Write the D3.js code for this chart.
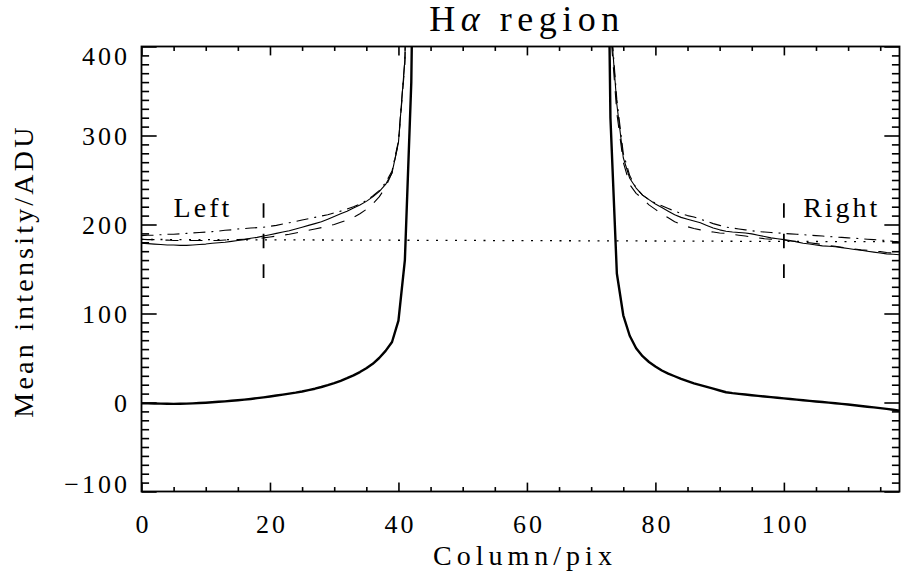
<!DOCTYPE html>
<html>
<head>
<meta charset="utf-8">
<script src="https://cdn.jsdelivr.net/npm/d3@7"></script>
<style>
  html, body { margin: 0; padding: 0; background: #fff; }
  svg { display: block; }
  text { font-family: "Liberation Serif", "DejaVu Serif", serif; fill: #000; }
</style>
</head>
<body>
<svg id="chart" width="902" height="575"></svg>
<script>
// ---- data: mean intensity per column, left and right wings of the line ----
// (the line core between the wings runs far above the plotted range)
const leftStart = 0;
const rightStart = 72;

// object spectrum (thick solid)
const objectLeft = [-1, -1, -1.2, -1.3, -1.4, -1.5, -1.4, -1.3, -1, -0.6,
  -0.2, 0.3, 0.8, 1.3, 1.9, 2.5, 3.2, 4, 4.9, 5.8,
  6.8, 7.8, 8.9, 10, 11.1, 12.4, 13.9, 15.5, 17.4, 19.5,
  21.8, 24.4, 27.3, 30.5, 34.2, 38.5, 43.5, 50, 58, 68,
  92, 160, 360, 900];
const objectRight = [900, 320, 145, 98, 75, 61, 52, 45.5, 40.5, 36,
  32.5, 29.5, 26.5, 24, 21.5, 19.5, 17.5, 15.5, 13.5, 11.5,
  10.5, 9.7, 9, 8.2, 7.5, 6.7, 6, 5.3, 4.6, 3.9,
  3.2, 2.5, 1.8, 1.1, 0.5, -0.1, -0.8, -1.5, -2.3, -3.1,
  -3.9, -4.7, -5.5, -6.3, -7.2, -8.2, -9.2];

// sky spectrum A (thin solid)
const skyALeft = [179, 178.5, 178, 177.5, 177, 177, 176.5, 176.5, 177, 177.5,
  178, 179, 179.5, 180, 181, 182, 183, 184.5, 185.5, 187,
  188.5, 190, 191.5, 193, 195, 197, 199, 201, 203, 206,
  209, 212, 215, 218.5, 222, 226, 231, 237, 245, 258,
  292, 385, 700, 900];
const skyARight = [700, 430, 335, 275, 252, 241, 233, 228, 223, 219,
  215, 211, 208, 206, 204, 202, 199, 196, 194, 192.5,
  191.5, 191, 190.5, 189.5, 188, 186.5, 185, 184, 183, 182,
  180.5, 179, 178, 177, 176, 175.5, 175, 174, 173, 172,
  171, 170, 169, 168, 167, 166.5, 166];

// sky spectrum B (dashed)
const skyBLeft = [183.5, 183, 183, 182.5, 182.5, 182, 182, 182, 182, 182,
  182, 182, 182, 182.5, 183, 183, 183.5, 184, 184.5, 185,
  186, 187, 188, 189, 190.5, 192, 193.5, 195, 196.5, 198,
  200, 202.5, 205, 208, 212, 217, 223, 231, 242, 258,
  292, 380, 700, 900];
const skyBRight = [700, 420, 325, 270, 245, 235, 229, 222, 217, 212,
  207.5, 203, 200, 197.5, 195.5, 194, 192.5, 191.5, 190.5, 190,
  189, 188, 187, 186, 185, 184, 183.5, 183, 182.5, 181.5,
  181, 180, 179.5, 178.5, 177.5, 176.5, 175.5, 174.5, 173.5, 172.5,
  171.5, 171, 170, 169.5, 168.5, 168, 167.5];

// sky spectrum C (dash-dot)
const skyCLeft = [187.5, 188, 188, 188.5, 189, 189, 189.5, 190, 190.5, 191,
  191.5, 192, 192.5, 193.5, 194, 195, 195.5, 196, 196.5, 197,
  198, 199, 200.5, 202, 203.5, 205, 206.5, 208, 209.5, 211,
  213, 215, 217.5, 220, 223, 227, 232, 238, 247, 260,
  294, 385, 700, 900];
const skyCRight = [700, 435, 340, 280, 255, 241, 233, 228, 224, 221,
  218, 215, 212.5, 210, 208.5, 206, 203.5, 201, 199, 197,
  196, 195, 194, 193, 192, 191.5, 191, 190.5, 190, 189.5,
  189, 188.5, 188, 187.5, 187, 186.5, 186, 185.5, 185, 184.5,
  184, 183.5, 183, 182.5, 182, 181, 180.5];

// continuum level fitted between the two windows (dotted)
const continuumCols = [0, 118];
const continuumVals = [183.2, 180.6];

// continuum window markers
const markerCols = [19, 100];
const markerRange = [140, 224];
const markerNames = ["Left", "Right"];
const markerLabelPos = [[5, 208], [103, 208]];

// axes
const xDomain = [0, 118];
const yDomain = [-100, 400];
const xMajorTicks = [0, 20, 40, 60, 80, 100];
const xMinorStep = 5;
const yMajorTicks = [-100, 0, 100, 200, 300, 400];
const yMinorStep = 10;

const titleMain = "H";
const titleGreek = "\u03b1";
const titleRest = " region";
const xTitle = "Column/pix";
const yTitle = "Mean intensity/ADU";

// ---- layout ----
const plot = { left: 141.5, right: 899.5, top: 46.5, bottom: 491.5 };
const TICK_FONT = 26, TICK_LS = 3;
const LABEL_FONT = 28;

const svg = d3.select("#chart");
const x = d3.scaleLinear().domain(xDomain).range([plot.left, plot.right]);
const y = d3.scaleLinear().domain(yDomain).range([plot.bottom, plot.top]);

const xLen = 0.02 * (plot.bottom - plot.top);   // tick length on x axes
const yLen = 0.02 * (plot.right - plot.left);   // tick length on y axes

function minorTicks(domain, step, majors) {
  const out = [];
  const start = Math.ceil(domain[0] / step) * step;
  for (let v = start; v <= domain[1] + 1e-9; v += step) {
    if (!majors.includes(v)) out.push(v);
  }
  return out;
}
const xMinor = minorTicks(xDomain, xMinorStep, xMajorTicks);
const yMinor = minorTicks(yDomain, yMinorStep, yMajorTicks);

const TICK_W = 1.6;
function styleAxis(g, keepText) {
  g.select(".domain").remove();
  g.selectAll(".tick line").attr("stroke", "#000").attr("stroke-width", TICK_W);
  if (!keepText) g.selectAll(".tick text").remove();
  g.attr("font-family", null).attr("font-size", null);
}

// bottom axis (labelled)
svg.append("g").attr("transform", `translate(0,${plot.bottom})`)
  .call(d3.axisBottom(x).tickValues(xMajorTicks).tickSize(-xLen).tickPadding(23).tickFormat(d3.format("d")))
  .call(g => styleAxis(g, true))
  .call(g => g.selectAll(".tick text")
    .attr("font-size", TICK_FONT).attr("letter-spacing", TICK_LS).attr("dx", TICK_LS / 2));
svg.append("g").attr("transform", `translate(0,${plot.bottom})`)
  .call(d3.axisBottom(x).tickValues(xMinor).tickSize(-xLen / 2))
  .call(g => styleAxis(g, false));

// top axis (ticks only)
svg.append("g").attr("transform", `translate(0,${plot.top})`)
  .call(d3.axisTop(x).tickValues(xMajorTicks).tickSize(-xLen))
  .call(g => styleAxis(g, false));
svg.append("g").attr("transform", `translate(0,${plot.top})`)
  .call(d3.axisTop(x).tickValues(xMinor).tickSize(-xLen / 2))
  .call(g => styleAxis(g, false));

// left axis (labelled); end labels kept inside the frame height
const yLabH = 0.66 * TICK_FONT;
svg.append("g").attr("transform", `translate(${plot.left},0)`)
  .call(d3.axisLeft(y).tickValues(yMajorTicks).tickSize(-yLen).tickPadding(8.5 + TICK_LS).tickFormat(d3.format("d")))
  .call(g => styleAxis(g, true))
  .call(g => g.selectAll(".tick text")
    .attr("font-size", TICK_FONT).attr("letter-spacing", TICK_LS)
    .attr("dy", null)
    .attr("y", d => {
      const cy = Math.max(plot.top + 9.5, Math.min(plot.bottom - 7.5, y(d)));
      return cy - y(d) + yLabH / 2;
    }));
svg.append("g").attr("transform", `translate(${plot.left},0)`)
  .call(d3.axisLeft(y).tickValues(yMinor).tickSize(-yLen / 2))
  .call(g => styleAxis(g, false));

// right axis (ticks only)
svg.append("g").attr("transform", `translate(${plot.right},0)`)
  .call(d3.axisRight(y).tickValues(yMajorTicks).tickSize(-yLen))
  .call(g => styleAxis(g, false));
svg.append("g").attr("transform", `translate(${plot.right},0)`)
  .call(d3.axisRight(y).tickValues(yMinor).tickSize(-yLen / 2))
  .call(g => styleAxis(g, false));

// frame
svg.append("rect")
  .attr("x", plot.left).attr("y", plot.top)
  .attr("width", plot.right - plot.left).attr("height", plot.bottom - plot.top)
  .attr("fill", "none").attr("stroke", "#000").attr("stroke-width", 1.8);

// clip for the data
svg.append("clipPath").attr("id", "plotClip")
  .append("rect")
  .attr("x", plot.left).attr("y", plot.top)
  .attr("width", plot.right - plot.left).attr("height", plot.bottom - plot.top);

const data = svg.append("g").attr("clip-path", "url(#plotClip)");
const line = d3.line().x(d => x(d[0])).y(d => y(d[1]));

function wing(vals, start) { return vals.map((v, i) => [start + i, v]); }

const series = [
  { left: skyCLeft, right: skyCRight, width: 1.1, dash: "12,6,2,6" },
  { left: skyBLeft, right: skyBRight, width: 1.1, dash: "13,11" },
  { left: skyALeft, right: skyARight, width: 1.1, dash: null },
  { left: objectLeft, right: objectRight, width: 2.4, dash: null }
];

series.forEach(s => {
  [wing(s.left, leftStart), wing(s.right, rightStart)].forEach(pts => {
    data.append("path")
      .attr("d", line(pts))
      .attr("fill", "none")
      .attr("stroke", "#000")
      .attr("stroke-width", s.width)
      .attr("stroke-linejoin", "round")
      .attr("stroke-dasharray", s.dash);
  });
});

// continuum level
data.append("path")
  .attr("d", line(continuumCols.map((c, i) => [c, continuumVals[i]])))
  .attr("fill", "none").attr("stroke", "#000")
  .attr("stroke-width", 1.3).attr("stroke-dasharray", "2,7.5");

// window markers
markerCols.forEach(c => {
  data.append("line")
    .attr("x1", x(c)).attr("x2", x(c))
    .attr("y1", y(markerRange[1])).attr("y2", y(markerRange[0]))
    .attr("stroke", "#000").attr("stroke-width", 1.8)
    .attr("stroke-dasharray", "14.5,16");
});

// window labels
markerNames.forEach((name, i) => {
  svg.append("text")
    .attr("x", x(markerLabelPos[i][0])).attr("y", y(markerLabelPos[i][1]))
    .attr("font-size", LABEL_FONT).attr("letter-spacing", 3)
    .text(name);
});

// title
const title = svg.append("text")
  .attr("x", 527).attr("y", 31)
  .attr("text-anchor", "middle")
  .attr("font-size", 36).attr("letter-spacing", 5.5);
title.append("tspan").text(titleMain);
title.append("tspan").attr("font-style", "italic").text(titleGreek);
title.append("tspan").text(titleRest);

// axis titles
svg.append("text")
  .attr("x", 525).attr("y", 565)
  .attr("text-anchor", "middle")
  .attr("font-size", LABEL_FONT).attr("letter-spacing", 5)
  .text(xTitle);

svg.append("text")
  .attr("transform", `translate(33,${(plot.top + plot.bottom) / 2 + 2}) rotate(-90)`)
  .attr("text-anchor", "middle")
  .attr("font-size", LABEL_FONT).attr("letter-spacing", 3.2)
  .text(yTitle);
</script>
</body>
</html>
